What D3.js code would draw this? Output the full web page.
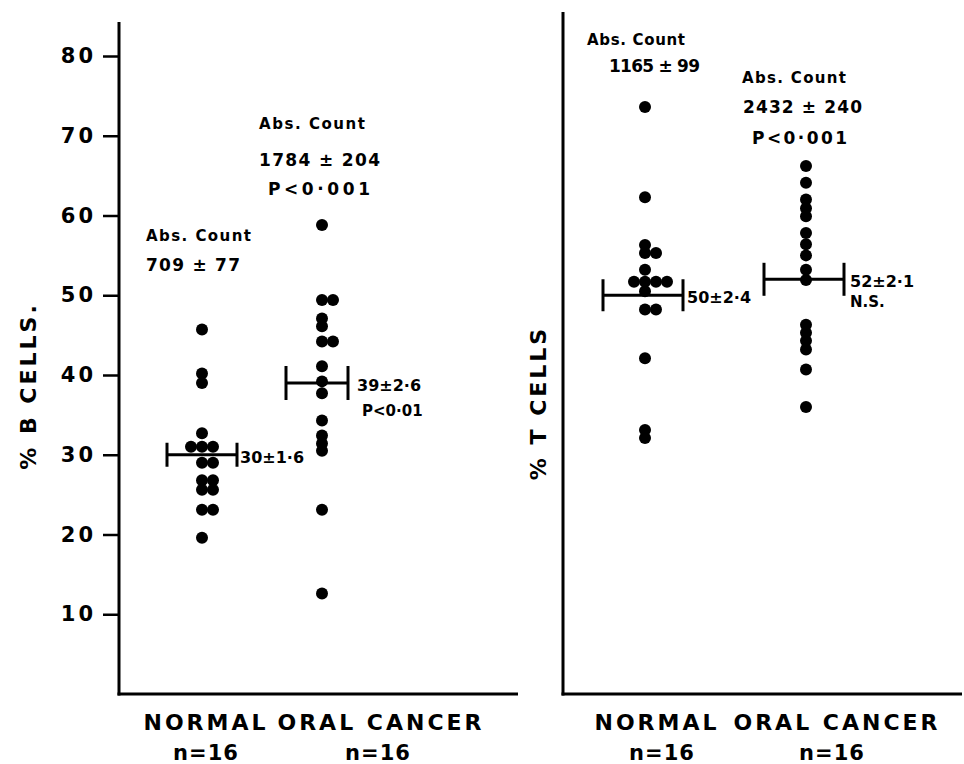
<!DOCTYPE html>
<html>
<head>
  <title>% B cells and % T cells, normal vs oral cancer</title>
  <script src="https://d3js.org/d3.v7.min.js"></script>
  <style>
    body { margin: 0; background: #fff; }
    text { font-family: "DejaVu Sans", sans-serif; font-weight: bold; fill: #000; }
  </style>
</head>
<body>
  <div id="chart"></div>

  <script>
    // categories on the x axis
    const categories = ["NORMAL", "ORAL CANCER"];
    const nLabels = ["n=16", "n=16"];
    const yTicks = [10, 20, 30, 40, 50, 60, 70, 80];

    // % B cells, one value per subject
    const bNormal = [45.7, 40.2, 39.0, 32.7, 31.0, 31.0, 31.0, 29.0, 29.0, 26.8, 26.8, 25.6, 25.6, 23.1, 23.1, 19.6];
    const bOral = [58.8, 49.4, 49.4, 47.1, 46.1, 44.2, 44.2, 41.1, 39.2, 37.7, 34.3, 32.4, 31.4, 30.5, 23.1, 12.6];
    // % T cells
    const tNormal = [73.6, 62.3, 56.3, 55.3, 55.3, 53.2, 51.7, 51.7, 51.7, 51.7, 50.5, 48.2, 48.2, 42.1, 33.1, 32.1];
    const tOral = [66.2, 64.1, 62.0, 60.9, 59.9, 57.8, 56.4, 55.0, 53.2, 51.9, 46.3, 45.3, 44.3, 43.2, 40.7, 36.0];

    // group means and their labels
    const bMeans = [30, 39];
    const tMeans = [50, 52];
    const bMeanText = ["30±1·6", "39±2·6"];
    const tMeanText = ["50±2·4", "52±2·1"];
    const bSigText = ["", "P<0·01"];
    const tSigText = ["", "N.S."];

    // absolute counts printed above the columns
    const bAbsText = ["709 ± 77", "1784 ± 204"];
    const tAbsText = ["1165 ± 99", "2432 ± 240"];
    const bAbsP = ["", "P<0·001"];
    const tAbsP = ["", "P<0·001"];

    const width = 964, height = 764;
    const svg = d3.select("#chart").append("svg")
      .attr("width", width)
      .attr("height", height);

    // both panels share the same vertical scale
    const y = d3.scaleLinear().domain([0, 80]).range([694, 56]);

    // small helper for the text labels
    function label(x, yc, str, size, len, anchor) {
      const t = svg.append("text")
        .attr("x", x)
        .attr("y", yc + size * 0.36)
        .attr("font-size", size)
        .attr("text-anchor", anchor || "start")
        .text(str);
      if (len) t.attr("textLength", len).attr("lengthAdjust", "spacing");
      return t;
    }

    // spread dots that sit on (nearly) the same value sideways
    function dodge(values, cx) {
      const placed = [];
      values.slice().sort((a, b) => b - a).forEach(v => {
        const py = y(v);
        let k = 0, px;
        for (let i = 0; i < 20; i++) {
          k = i === 0 ? 0 : (i % 2 ? Math.ceil(i / 2) : -i / 2);
          px = cx + k * 11;
          const hit = placed.some(p => Math.abs(p.y - py) < 6 && Math.abs(p.x - px) < 10);
          if (!hit) break;
        }
        placed.push({ x: px, y: py });
      });
      return placed;
    }

    const panels = [
      {
        groups: [bNormal, bOral], means: bMeans, meanText: bMeanText, sigText: bSigText,
        axisX: 119, right: 518, top: 22, cols: [202, 322],
        barCenter: [202, 317], barHalf: [35, 31], capH: [24, 34],
        meanDx: [3, 9], catX: [206, 381], nX: [206, 378], ticks: true
      },
      {
        groups: [tNormal, tOral], means: tMeans, meanText: tMeanText, sigText: tSigText,
        axisX: 563, right: 962, top: 12, cols: [645, 806],
        barCenter: [643, 804], barHalf: [40, 40], capH: [32, 33],
        meanDx: [4, 6], catX: [657, 837], nX: [662, 832], ticks: false
      }
    ];

    panels.forEach(p => {
      const x = d3.scalePoint().domain(categories).range(p.cols);

      // axes as plain thick lines
      svg.append("line")
        .attr("x1", p.axisX).attr("x2", p.axisX)
        .attr("y1", p.top).attr("y2", y(0) + 1.5)
        .attr("stroke", "#000").attr("stroke-width", 3);
      svg.append("line")
        .attr("x1", p.axisX - 1.5).attr("x2", p.right)
        .attr("y1", y(0)).attr("y2", y(0))
        .attr("stroke", "#000").attr("stroke-width", 3);

      if (p.ticks) {
        const ax = svg.append("g")
          .attr("transform", `translate(${p.axisX},0)`)
          .call(d3.axisLeft(y).tickValues(yTicks).tickSize(16).tickPadding(7));
        ax.select(".domain").remove();
        ax.selectAll(".tick line").attr("stroke", "#000").attr("stroke-width", 2.5);
        ax.selectAll(".tick text")
          .attr("font-size", 21)
          .attr("font-family", "DejaVu Sans")
          .attr("font-weight", "bold")
          .attr("letter-spacing", 3)
          .attr("fill", "#000");
      }

      // dots
      categories.forEach((c, i) => {
        const pts = dodge(p.groups[i], x(c));
        svg.append("g").selectAll("circle")
          .data(pts)
          .join("circle")
          .attr("cx", d => d.x)
          .attr("cy", d => d.y)
          .attr("r", 6)
          .attr("fill", "#000");

        // mean bar with end caps
        const my = y(p.means[i]);
        const bx = p.barCenter[i], hw = p.barHalf[i], ch = p.capH[i];
        const g = svg.append("g").attr("stroke", "#000").attr("stroke-width", 3);
        g.append("line").attr("x1", bx - hw).attr("x2", bx + hw).attr("y1", my).attr("y2", my);
        g.append("line").attr("x1", bx - hw).attr("x2", bx - hw).attr("y1", my - ch / 2).attr("y2", my + ch / 2);
        g.append("line").attr("x1", bx + hw).attr("x2", bx + hw).attr("y1", my - ch / 2).attr("y2", my + ch / 2);

        const tx = bx + hw + p.meanDx[i];
        label(tx, my + 2, p.meanText[i], 16);
        if (p.sigText[i]) label(tx + (p.ticks ? 5 : 0), my + (p.ticks ? 28 : 22), p.sigText[i], 15);

        // category labels
        label(p.catX[i], 722, c, 22, null, "middle").attr("letter-spacing", 3);
        label(p.nX[i], 752, nLabels[i], 21, null, "middle").attr("letter-spacing", 1);
      });
    });

    // absolute count annotations
    label(146, 236, "Abs. Count", 15, 105);
    label(146, 265, bAbsText[0], 17, 94);
    label(259, 124, "Abs. Count", 15, 106);
    label(259, 160, bAbsText[1], 17, 121);
    label(268, 189, bAbsP[1], 17, 102);

    label(587, 40, "Abs. Count", 15, 98);
    label(609, 66, tAbsText[0], 17, 91);
    label(742, 78, "Abs. Count", 15, 104);
    label(743, 107, tAbsText[1], 17, 119);
    label(752, 138, tAbsP[1], 17, 95);

    // y axis titles
    label(0, 0, "% B CELLS.", 22, null, "middle")
      .attr("letter-spacing", 3)
      .attr("transform", "translate(28,386) rotate(-90)");
    label(0, 0, "% T CELLS", 22, null, "middle")
      .attr("letter-spacing", 3)
      .attr("transform", "translate(538,403) rotate(-90)");
  </script>
</body>
</html>
